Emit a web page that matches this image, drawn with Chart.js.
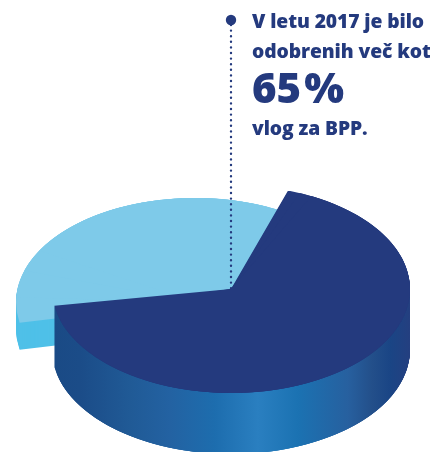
<!DOCTYPE html>
<html><head><meta charset="utf-8">
<script src="https://cdn.jsdelivr.net/npm/chart.js@4"></script>
<style>
html,body{margin:0;padding:0;background:#fff;width:430px;height:452px;overflow:hidden}
#wrap{position:relative;width:430px;height:452px}
canvas{position:absolute;left:0;top:0}
.t{position:absolute;white-space:nowrap;color:#243a7e;font-family:"Open Sans",sans-serif;font-weight:800;line-height:1}
.s{font-size:19.3px;letter-spacing:-.1px}
</style></head><body>
<div id="wrap">
<canvas id="c" width="430" height="452"></canvas>
<div class="t s" style="left:252px;top:11px">V letu 2017 je bilo</div>
<div class="t s" style="left:252px;top:40.5px">odobrenih več kot</div>
<div class="t" style="left:252px;top:66px;font-size:42px;word-spacing:-8px">65 %</div>
<div class="t s" style="left:252px;top:118px">vlog za BPP.</div>
</div>
<script>
const categories = ['Odobrene vloge', 'Druge vloge'];
const shares = [65, 35];
const sliceColors = ['#243a7e', '#7ecae9'];

// Projection of each slice: centre, ellipse radii, extrusion, extra angular sweep from perspective.
const RX = 179, RY = 104;
const projection = [
  {cx: 231, cy: 289, depth: 61, rots: [0, 4, 8.1], wall: null},
  {cx: 195, cy: 302, depth: 27, rots: [5.9, 20, 35, 47], wall: '#4fc0e8'}
];
const wallStops = [[53,'#1a4a85'],[80,'#1b4c88'],[130,'#205a96'],[170,'#2362a2'],[215,'#1d6dae'],
  [258,'#2a7fc0'],[298,'#1b72b2'],[348,'#27609f'],[372,'#234f8a'],[390,'#1a4585'],[410,'#243f80']];

const deg = Math.PI / 180;
const baseOpts = {borderWidth:0,borderColor:'transparent',borderAlign:'center',offset:0,spacing:0,
  circular:true,borderRadius:0,borderJoinStyle:'round',borderDash:[],borderDashOffset:0};

function drawSlice(ctx, arc, p, dy, fill, rot) {
  const sx = RX / arc.outerRadius, sy = RY / arc.outerRadius;
  ctx.save();
  ctx.translate(p.cx, p.cy + dy);
  ctx.scale(sx, sy);
  ctx.translate(-arc.x, -arc.y);
  let bg = fill;
  if (Array.isArray(fill)) {
    const x0 = fill[0][0], x1 = fill[fill.length-1][0];
    const toLocal = x => (x - p.cx) / sx + arc.x;
    bg = ctx.createLinearGradient(toLocal(x0), 0, toLocal(x1), 0);
    fill.forEach(s => bg.addColorStop((s[0]-x0)/(x1-x0), s[1]));
  }
  const shim = Object.create(arc);
  shim.options = Object.assign({}, baseOpts, {backgroundColor: bg});
  shim.startAngle = arc.startAngle + rot * deg;
  shim.endAngle = arc.endAngle + rot * deg;
  arc.draw.call(shim, ctx);
  ctx.restore();
}

const pie3d = {
  id: 'pie3d',
  beforeDatasetsDraw(chart) {
    const ctx = chart.ctx, arcs = chart.getDatasetMeta(0).data;
    const solid = i => {
      const p = projection[i], wall = p.wall || wallStops;
      for (let d = p.depth; d >= 1; d--) p.rots.forEach(r => drawSlice(ctx, arcs[i], p, d, wall, r));
      p.rots.forEach(r => drawSlice(ctx, arcs[i], p, 0, sliceColors[i], r));
    };
    solid(1);
    // leader from the caption to the pie's apex
    ctx.save();
    ctx.strokeStyle = '#243a7e'; ctx.lineWidth = 2.4; ctx.lineCap = 'round';
    ctx.setLineDash([0, 5.6]);
    ctx.beginPath(); ctx.moveTo(231, 25); ctx.lineTo(231, 289); ctx.stroke();
    ctx.setLineDash([]); ctx.fillStyle = '#243a7e';
    ctx.beginPath(); ctx.arc(231, 20, 5.2, 0, Math.PI * 2); ctx.fill();
    ctx.restore();
    solid(0);
    return false;
  }
};

new Chart(document.getElementById('c'), {
  type: 'pie',
  data: {labels: categories, datasets: [{data: shares, backgroundColor: sliceColors, borderWidth: 0}]},
  options: {
    responsive: false, animation: false, rotation: 18.6,
    layout: {padding: 0},
    plugins: {legend: {display: false}, tooltip: {enabled: false}, title: {display: false}}
  },
  plugins: [pie3d]
});
</script>
</body></html>
